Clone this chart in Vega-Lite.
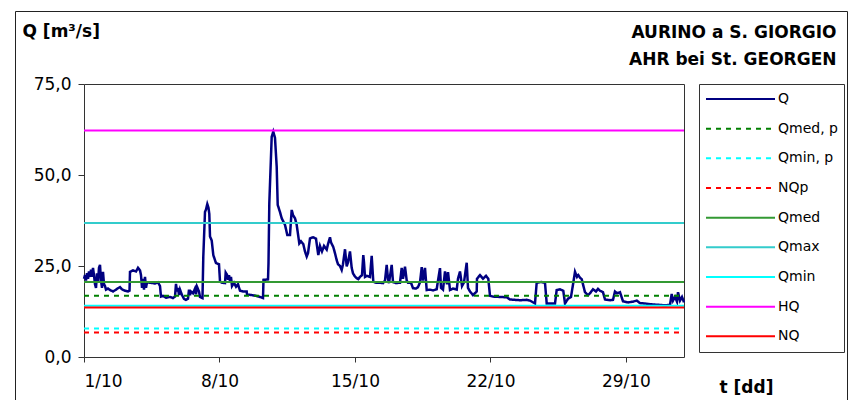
{
  "$schema": "https://vega.github.io/schema/vega-lite/v6.json",
  "width": 832,
  "height": 395,
  "autosize": {"type": "none"},
  "padding": {"left": 15, "top": 11, "right": 1, "bottom": 0},
  "background": "white",
  "config": {
    "font": "DejaVu Sans",
    "view": {"stroke": "#222", "strokeWidth": 1},
    "axis": {"grid": false, "domainColor": "#333", "tickColor": "#333", "labelColor": "#000", "labelFont": "DejaVu Sans", "labelFontSize": 17, "titleFont": "DejaVu Sans", "titleFontSize": 17, "titleFontWeight": "bold", "titleColor": "#000"},
    "legend": {"title": null, "symbolType": "stroke", "symbolSize": 4761, "symbolStrokeWidth": 2, "clipHeight": 18, "rowPadding": 11.67, "padding": 6, "labelOffset": 2, "labelFont": "DejaVu Sans", "labelFontSize": 14, "labelColor": "#000", "strokeColor": "#333", "fillColor": "white"}
  },
  "datasets": {
    "q": [
      {"day":1.000,"q":21.5},{"day":1.052,"q":22.5},{"day":1.103,"q":21.0},{"day":1.155,"q":23.0},{"day":1.207,"q":21.5},{"day":1.258,"q":23.5},{"day":1.310,"q":22.0},{"day":1.362,"q":24.0},{"day":1.413,"q":22.0},{"day":1.465,"q":24.5},{"day":1.517,"q":22.5},{"day":1.568,"q":20.0},{"day":1.620,"q":19.0},{"day":1.672,"q":23.0},{"day":1.723,"q":20.5},{"day":1.775,"q":24.5},{"day":1.827,"q":25.3},{"day":1.878,"q":21.0},{"day":1.930,"q":19.0},{"day":1.982,"q":23.4},{"day":2.033,"q":20.0},{"day":2.085,"q":19.5},{"day":2.137,"q":18.5},{"day":2.240,"q":18.8},{"day":2.343,"q":18.4},{"day":2.498,"q":18.0},{"day":2.653,"q":18.5},{"day":2.757,"q":18.9},{"day":2.860,"q":19.2},{"day":2.963,"q":18.6},{"day":3.118,"q":18.2},{"day":3.273,"q":18.0},{"day":3.351,"q":18.2},
      {"day":3.377,"q":23.4},{"day":3.532,"q":23.8},{"day":3.687,"q":23.5},{"day":3.790,"q":24.5},{"day":3.893,"q":23.8},{"day":3.945,"q":22.5},{"day":3.997,"q":19.0},{"day":4.048,"q":21.5},{"day":4.100,"q":18.5},{"day":4.152,"q":22.0},{"day":4.203,"q":19.0},{"day":4.255,"q":20.5},{"day":4.410,"q":20.4},{"day":4.668,"q":20.2},{"day":4.823,"q":20.5},{"day":4.927,"q":19.5},{"day":4.978,"q":16.6},{"day":5.082,"q":16.8},{"day":5.237,"q":16.3},{"day":5.443,"q":16.5},{"day":5.598,"q":16.2},{"day":5.702,"q":16.6},{"day":5.753,"q":20.1},{"day":5.805,"q":18.0},{"day":5.857,"q":19.0},{"day":5.908,"q":17.0},{"day":5.960,"q":18.5},{"day":6.063,"q":17.0},{"day":6.167,"q":16.0},{"day":6.270,"q":15.7},{"day":6.373,"q":16.0},{"day":6.425,"q":18.5},{"day":6.477,"q":17.0},{"day":6.528,"q":18.0},{"day":6.632,"q":17.5},{"day":6.735,"q":18.8},{"day":6.787,"q":17.2},{"day":6.838,"q":19.3},{"day":6.942,"q":18.0},{"day":6.993,"q":16.5},{"day":7.122,"q":16.2},
      {"day":7.164,"q":27.6},{"day":7.252,"q":39.9},{"day":7.303,"q":40.5},{"day":7.370,"q":42.0},{"day":7.432,"q":41.0},{"day":7.474,"q":39.3},{"day":7.510,"q":33.1},{"day":7.598,"q":32.0},{"day":7.681,"q":28.0},{"day":7.820,"q":25.8},{"day":7.975,"q":25.5},{"day":8.027,"q":20.7},{"day":8.130,"q":20.4},{"day":8.285,"q":20.3},{"day":8.321,"q":23.2},{"day":8.388,"q":22.6},{"day":8.440,"q":21.2},{"day":8.492,"q":22.5},{"day":8.543,"q":20.8},{"day":8.595,"q":22.0},{"day":8.647,"q":19.5},{"day":8.750,"q":20.4},{"day":8.853,"q":19.3},{"day":8.957,"q":20.0},{"day":9.060,"q":18.2},{"day":9.215,"q":18.0},{"day":9.406,"q":18.0},{"day":9.422,"q":17.2},{"day":9.680,"q":17.0},{"day":9.887,"q":16.8},{"day":10.093,"q":16.5},{"day":10.248,"q":16.2},
      {"day":10.274,"q":21.2},{"day":10.507,"q":21.3},{"day":10.532,"q":25.7},{"day":10.574,"q":42.2},{"day":10.698,"q":60.5},{"day":10.780,"q":61.9},{"day":10.868,"q":60.2},{"day":10.956,"q":52.3},{"day":11.008,"q":41.8},{"day":11.127,"q":39.8},{"day":11.215,"q":38.1},{"day":11.282,"q":37.4},{"day":11.385,"q":36.3},{"day":11.504,"q":33.5},{"day":11.643,"q":33.5},{"day":11.731,"q":40.4},{"day":11.798,"q":39.0},{"day":11.902,"q":38.1},{"day":11.989,"q":36.3},{"day":12.124,"q":31.2},{"day":12.211,"q":31.8},{"day":12.330,"q":31.0},{"day":12.418,"q":29.0},{"day":12.506,"q":27.6},{"day":12.573,"q":28.5},{"day":12.676,"q":32.6},{"day":12.831,"q":32.9},{"day":12.986,"q":32.5},{"day":13.105,"q":28.0},{"day":13.193,"q":30.5},{"day":13.296,"q":29.0},{"day":13.400,"q":30.5},{"day":13.539,"q":29.5},{"day":13.606,"q":31.0},{"day":13.710,"q":32.9},{"day":13.761,"q":31.5},{"day":13.880,"q":30.2},{"day":13.968,"q":28.5},{"day":14.056,"q":26.6},{"day":14.123,"q":25.5},{"day":14.226,"q":25.0},{"day":14.314,"q":23.9},{"day":14.381,"q":25.5},{"day":14.485,"q":29.6},{"day":14.573,"q":24.9},{"day":14.640,"q":26.0},{"day":14.743,"q":29.0},{"day":14.831,"q":24.5},{"day":14.898,"q":23.0},{"day":15.001,"q":22.1},{"day":15.105,"q":21.6},{"day":15.172,"q":21.4},{"day":15.260,"q":22.0},{"day":15.363,"q":22.5},{"day":15.430,"q":28.0},{"day":15.467,"q":26.0},{"day":15.518,"q":22.0},{"day":15.622,"q":22.3},{"day":15.776,"q":22.0},{"day":15.864,"q":27.8},{"day":15.947,"q":20.7},{"day":16.086,"q":20.4},{"day":16.293,"q":20.4},
      {"day":16.448,"q":20.3},{"day":16.552,"q":21.0},{"day":16.639,"q":25.3},{"day":16.706,"q":21.5},{"day":16.758,"q":20.3},{"day":16.898,"q":25.3},{"day":16.965,"q":20.6},{"day":17.120,"q":20.3},{"day":17.326,"q":20.4},{"day":17.414,"q":24.5},{"day":17.481,"q":21.5},{"day":17.585,"q":24.8},{"day":17.673,"q":21.0},{"day":17.740,"q":20.4},{"day":17.895,"q":20.4},{"day":17.998,"q":18.9},{"day":18.153,"q":18.8},{"day":18.256,"q":19.2},{"day":18.360,"q":20.5},{"day":18.448,"q":24.7},{"day":18.515,"q":21.0},{"day":18.618,"q":24.5},{"day":18.706,"q":18.4},{"day":18.876,"q":18.5},{"day":19.031,"q":18.3},{"day":19.223,"q":18.6},{"day":19.290,"q":21.0},{"day":19.393,"q":24.4},{"day":19.445,"q":19.0},{"day":19.548,"q":18.5},{"day":19.652,"q":23.5},{"day":19.755,"q":20.0},{"day":19.807,"q":23.3},{"day":19.910,"q":18.4},{"day":20.065,"q":18.8},{"day":20.256,"q":18.5},{"day":20.323,"q":21.5},{"day":20.427,"q":23.5},{"day":20.530,"q":19.5},{"day":20.633,"q":20.5},{"day":20.773,"q":25.9},{"day":20.840,"q":19.0},{"day":20.943,"q":18.0},{"day":21.098,"q":17.0},{"day":21.290,"q":18.0},{"day":21.305,"q":21.5},{"day":21.460,"q":22.5},{"day":21.615,"q":21.5},{"day":21.770,"q":22.3},{"day":21.889,"q":21.5},{"day":21.977,"q":16.8},{"day":22.132,"q":16.6},{"day":22.493,"q":16.5},{"day":22.840,"q":16.4},{"day":23.010,"q":15.8},{"day":23.269,"q":15.7},{"day":23.527,"q":15.6},{"day":23.873,"q":15.7},{"day":24.043,"q":15.5},{"day":24.301,"q":14.7},
      {"day":24.389,"q":20.4},{"day":24.611,"q":20.6},{"day":24.818,"q":20.4},{"day":24.906,"q":14.7},{"day":25.335,"q":14.7},{"day":25.422,"q":18.4},{"day":25.593,"q":18.6},{"day":25.764,"q":18.2},{"day":25.852,"q":14.7},{"day":26.006,"q":16.0},{"day":26.161,"q":16.5},{"day":26.280,"q":20.4},{"day":26.368,"q":23.4},{"day":26.471,"q":22.0},{"day":26.538,"q":22.5},{"day":26.626,"q":21.8},{"day":26.714,"q":21.4},{"day":26.884,"q":17.8},{"day":27.039,"q":17.0},{"day":27.143,"q":17.5},{"day":27.298,"q":18.6},{"day":27.453,"q":18.0},{"day":27.556,"q":18.7},{"day":27.660,"q":18.2},{"day":27.815,"q":17.8},{"day":27.918,"q":15.8},{"day":28.176,"q":15.6},{"day":28.331,"q":15.7},{"day":28.435,"q":18.0},{"day":28.538,"q":17.5},{"day":28.693,"q":17.8},{"day":28.848,"q":15.3},{"day":29.106,"q":15.0},{"day":29.365,"q":15.2},{"day":29.556,"q":15.5},{"day":29.726,"q":14.8},{"day":29.985,"q":14.7},{"day":30.243,"q":14.5},{"day":30.760,"q":14.3},{"day":31.018,"q":14.2},{"day":31.277,"q":14.3},{"day":31.364,"q":17.3},{"day":31.432,"q":15.5},{"day":31.535,"q":16.5},{"day":31.639,"q":15.2},{"day":31.690,"q":17.8},{"day":31.793,"q":15.5},{"day":31.897,"q":16.5},{"day":32.000,"q":15.0}
    ],
    "refs": [
      {"series": "Qmed, p", "q": 16.8},
      {"series": "Qmin, p", "q": 7.8},
      {"series": "NQp", "q": 6.7},
      {"series": "Qmed", "q": 20.6},
      {"series": "Qmax", "q": 36.8},
      {"series": "Qmin", "q": 14.1},
      {"series": "HQ", "q": 62.2},
      {"series": "NQ", "q": 13.6}
    ]
  },
  "layer": [
    {
      "data": {"name": "q"},
      "mark": {"type": "line", "strokeWidth": 2.5, "interpolate": "linear"},
      "encoding": {
        "x": {"field": "day", "type": "quantitative",
          "scale": {"domain": [1, 32], "range": [69, 669], "nice": false, "zero": false},
          "axis": {"orient": "bottom", "offset": -49, "values": [1, 8, 15, 22, 29], "labelExpr": "datum.value + '/10'", "tickSize": 5, "labelPadding": 11, "title": "t [dd]", "titleAngle": 0, "titleAlign": "left", "titleBaseline": "alphabetic", "titleX": 704, "titleY": 35}},
        "y": {"field": "q", "type": "quantitative",
          "scale": {"domain": [0, 75], "range": [346, 73], "nice": false, "zero": false},
          "axis": {"orient": "left", "offset": -69, "values": [0, 25, 50, 75], "labelExpr": "replace(format(datum.value, '.1f'), '.', ',')", "tickSize": 6, "labelPadding": 7, "title": "Q [m³/s]", "titleAngle": 0, "titleAlign": "left", "titleBaseline": "alphabetic", "titleX": -62, "titleY": 25}},
        "color": {"datum": "Q", "type": "nominal",
          "scale": {"domain": ["Q", "Qmed, p", "Qmin, p", "NQp", "Qmed", "Qmax", "Qmin", "HQ", "NQ"],
                    "range": ["#000080", "#008000", "#00FFFF", "#FF0000", "#339933", "#33CCCC", "#00FFFF", "#FF00FF", "#FF0000"]},
          "legend": {"orient": "none", "legendX": 684, "legendY": 73}},
        "strokeDash": {"datum": "Q", "type": "nominal",
          "scale": {"domain": ["Q", "Qmed, p", "Qmin, p", "NQp", "Qmed", "Qmax", "Qmin", "HQ", "NQ"],
                    "range": [[1, 0], [5, 5], [5, 5], [5, 5], [1, 0], [1, 0], [1, 0], [1, 0], [1, 0]]},
          "legend": {"orient": "none", "legendX": 684, "legendY": 73}}
      }
    },
    {
      "data": {"name": "refs"},
      "mark": {"type": "rule", "strokeWidth": 2},
      "encoding": {
        "x": {"datum": 1, "type": "quantitative",
          "axis": {"orient": "top", "offset": -73, "domain": true, "ticks": false, "labels": false, "title": ["AURINO a S. GIORGIO", "AHR bei St. GEORGEN"], "titleAngle": 0, "titleAlign": "right", "titleBaseline": "alphabetic", "titleX": 821, "titleY": -47, "titleLineHeight": 27}},
        "x2": {"datum": 32},
        "y": {"field": "q", "type": "quantitative",
          "axis": {"orient": "right", "offset": -163, "domain": true, "ticks": false, "labels": false, "title": null}},
        "color": {"field": "series", "type": "nominal"},
        "strokeDash": {"field": "series", "type": "nominal"}
      }
    }
  ],
  "resolve": {"axis": {"x": "independent", "y": "independent"}}
}
